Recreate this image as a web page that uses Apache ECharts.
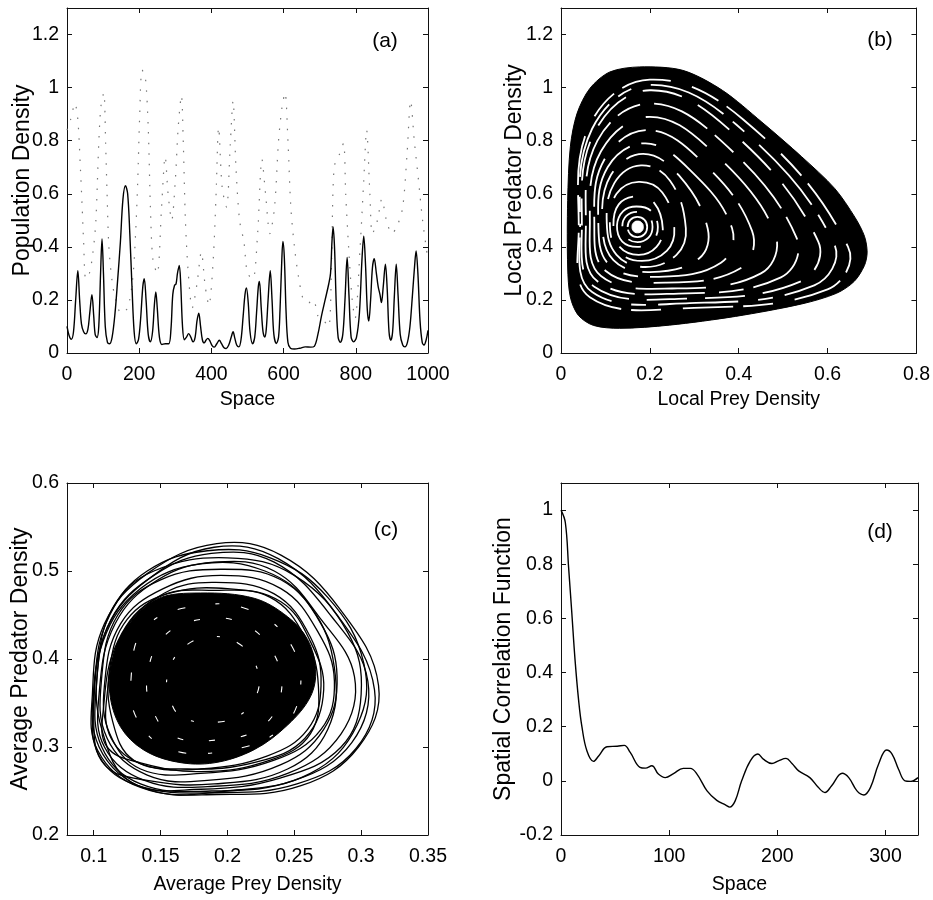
<!DOCTYPE html>
<html>
<head>
<meta charset="utf-8">
<script src="https://cdn.jsdelivr.net/npm/echarts@6/dist/echarts.min.js"></script>
<style>
html, body { margin: 0; padding: 0; background: #fff; }
#main { width: 933px; height: 900px; }
</style>
</head>
<body>
<div id="main"></div>
<script>
// (a) prey density along space (solid)
const preyA = [[0,0.1],[6,0.065],[12,0.052],[18,0.08],[24,0.2],[30,0.31],[35,0.2],[40,0.11],[46,0.08],[52,0.072],[58,0.09],[63,0.15],[69,0.22],[74,0.14],[78,0.07],[83,0.058],[88,0.1],[93,0.3],[97,0.43],[101,0.3],[106,0.1],[112,0.04],[118,0.035],[125,0.06],[133,0.15],[140,0.27],[148,0.42],[155,0.58],[162,0.63],[168,0.6],[174,0.45],[180,0.25],[186,0.08],[192,0.035],[198,0.05],[204,0.13],[210,0.25],[214,0.28],[219,0.2],[225,0.07],[231,0.042],[237,0.08],[242,0.18],[246,0.23],[250,0.17],[256,0.06],[263,0.032],[272,0.035],[282,0.035],[288,0.09],[293,0.22],[298,0.255],[302,0.26],[306,0.3],[311,0.33],[315,0.26],[320,0.1],[325,0.05],[331,0.06],[337,0.073],[343,0.06],[349,0.042],[355,0.06],[360,0.12],[365,0.15],[370,0.1],[375,0.05],[380,0.038],[385,0.048],[390,0.055],[396,0.045],[402,0.028],[408,0.022],[415,0.035],[422,0.048],[428,0.035],[435,0.02],[441,0.017],[448,0.03],[455,0.06],[460,0.08],[465,0.055],[470,0.03],[476,0.023],[482,0.05],[488,0.14],[493,0.22],[497,0.245],[502,0.19],[507,0.08],[514,0.035],[520,0.06],[525,0.15],[530,0.25],[533,0.27],[538,0.17],[543,0.08],[548,0.06],[552,0.09],[557,0.2],[563,0.31],[568,0.2],[573,0.07],[580,0.036],[586,0.06],[590,0.16],[595,0.35],[598,0.42],[602,0.36],[607,0.15],[612,0.04],[619,0.018],[630,0.015],[645,0.018],[660,0.023],[675,0.022],[685,0.025],[695,0.07],[705,0.14],[715,0.2],[725,0.26],[730,0.3],[734,0.42],[737,0.475],[741,0.4],[746,0.18],[751,0.06],[757,0.04],[764,0.07],[770,0.2],[776,0.36],[781,0.22],[787,0.06],[794,0.042],[802,0.06],[810,0.15],[817,0.35],[822,0.44],[827,0.33],[832,0.16],[836,0.12],[841,0.2],[846,0.32],[851,0.355],[857,0.3],[862,0.25],[867,0.22],[871,0.19],[876,0.25],[882,0.335],[887,0.24],[892,0.08],[897,0.048],[902,0.08],[907,0.22],[912,0.335],[917,0.22],[923,0.07],[930,0.03],[936,0.023],[943,0.04],[950,0.1],[957,0.22],[963,0.33],[967,0.385],[972,0.3],[978,0.12],[984,0.04],[989,0.03],[995,0.05],[1000,0.085]];

// (a) predator density along space (dotted)
const predA = [[0,0.84],[10,0.88],[22,0.94],[30,0.88],[37,0.7],[42,0.55],[46,0.42],[52,0.28],[62,0.3],[72,0.38],[80,0.5],[88,0.79],[94,0.93],[102,0.98],[107,0.79],[111,0.6],[116,0.4],[125,0.27],[135,0.2],[150,0.15],[168,0.17],[182,0.28],[190,0.45],[196,0.65],[201,0.88],[208,1.066],[217,1.04],[225,0.85],[231,0.55],[238,0.35],[250,0.3],[262,0.55],[272,0.74],[280,0.6],[290,0.5],[300,0.65],[308,0.85],[317,0.97],[322,0.8],[328,0.5],[336,0.3],[347,0.17],[360,0.26],[372,0.38],[383,0.25],[393,0.18],[405,0.35],[413,0.6],[420,0.85],[430,0.62],[442,0.55],[452,0.78],[460,0.95],[468,0.7],[478,0.5],[490,0.42],[500,0.3],[515,0.28],[528,0.45],[540,0.73],[550,0.6],[562,0.45],[575,0.55],[586,0.8],[596,0.93],[604,0.98],[612,0.8],[620,0.55],[630,0.4],[641,0.29],[655,0.2],[670,0.19],[683,0.2],[695,0.14],[712,0.12],[725,0.1],[733,0.35],[740,0.7],[755,0.75],[766,0.79],[772,0.6],[780,0.4],[790,0.2],[798,0.13],[812,0.4],[822,0.65],[830,0.84],[839,0.6],[846,0.45],[860,0.5],[872,0.58],[885,0.5],[900,0.45],[915,0.48],[930,0.55],[942,0.75],[952,0.95],[962,0.8],[973,0.66],[985,0.5],[1000,0.35]];

// (b) outline of the filled local phase portrait
const boundaryB = [[0.177,1.078],[0.11,1.059],[0.065,0.997],[0.036,0.902],[0.021,0.777],[0.015,0.575],[0.015,0.324],[0.021,0.211],[0.039,0.142],[0.073,0.104],[0.132,0.093],[0.244,0.105],[0.393,0.138],[0.542,0.185],[0.62,0.225],[0.66,0.27],[0.683,0.33],[0.689,0.38],[0.683,0.44],[0.662,0.51],[0.616,0.62],[0.542,0.739],[0.452,0.87],[0.363,0.99],[0.274,1.065]];
// (b) white orbits inside
const holeB = [[0.16,0.475],[0.163,0.49],[0.172,0.497],[0.182,0.49],[0.185,0.475],[0.182,0.46],[0.172,0.453],[0.163,0.46]];
const ringsB = [
  [[0.15,0.475],[0.156,0.502],[0.172,0.513],[0.188,0.502],[0.194,0.475],[0.188,0.448],[0.172,0.437],[0.156,0.448]],
  [[0.138,0.478],[0.147,0.517],[0.172,0.532],[0.197,0.517],[0.206,0.475],[0.197,0.435],[0.172,0.418],[0.147,0.435]],
  [[0.126,0.48],[0.14,0.535],[0.17,0.552],[0.203,0.535],[0.218,0.475],[0.205,0.42],[0.172,0.4],[0.138,0.42]],
  [[0.118,0.48],[0.13,0.56],[0.17,0.59],[0.21,0.565],[0.229,0.47],[0.215,0.4],[0.175,0.37],[0.132,0.4]],
  [[0.11,0.485],[0.125,0.6],[0.175,0.645],[0.228,0.605],[0.255,0.47],[0.238,0.385],[0.182,0.347],[0.128,0.385]],
  [[0.103,0.49],[0.12,0.64],[0.18,0.707],[0.245,0.65],[0.281,0.47],[0.26,0.37],[0.19,0.324],[0.125,0.37]],
  [[0.093,0.49],[0.112,0.67],[0.185,0.75],[0.265,0.67],[0.33,0.47],[0.31,0.355],[0.2,0.305],[0.118,0.35]],
  [[0.084,0.49],[0.105,0.7],[0.19,0.79],[0.29,0.69],[0.385,0.47],[0.36,0.34],[0.22,0.287],[0.11,0.33]],
  [[0.075,0.49],[0.098,0.73],[0.195,0.84],[0.315,0.725],[0.43,0.46],[0.405,0.32],[0.235,0.265],[0.1,0.31]],
  [[0.065,0.49],[0.09,0.76],[0.2,0.89],[0.34,0.76],[0.482,0.45],[0.45,0.3],[0.25,0.243],[0.09,0.29]],
  [[0.056,0.485],[0.082,0.8],[0.2,0.94],[0.36,0.8],[0.53,0.435],[0.495,0.285],[0.265,0.224],[0.082,0.27]],
  [[0.047,0.48],[0.075,0.83],[0.2,0.99],[0.38,0.84],[0.579,0.42],[0.54,0.27],[0.28,0.205],[0.075,0.25]],
  [[0.043,0.475],[0.07,0.845],[0.2,1.01],[0.395,0.86],[0.615,0.41],[0.57,0.255],[0.29,0.188],[0.07,0.23]],
  [[0.04,0.47],[0.065,0.86],[0.2,1.03],[0.41,0.88],[0.646,0.4],[0.6,0.24],[0.3,0.17],[0.065,0.21]]
];

// (c) dense core and the outer orbits of the averaged densities
const blobC = [[0.18,0.475],[0.147,0.468],[0.125,0.437],[0.114,0.399],[0.112,0.361],[0.12,0.323],[0.137,0.297],[0.162,0.283],[0.19,0.282],[0.22,0.297],[0.245,0.325],[0.262,0.357],[0.266,0.388],[0.26,0.422],[0.245,0.448],[0.22,0.469]];
const loopsC = [
  [[0.099,0.36],[0.108,0.44],[0.14,0.497],[0.192,0.531],[0.24,0.518],[0.285,0.455],[0.313,0.37],[0.298,0.3],[0.255,0.256],[0.192,0.246],[0.135,0.254],[0.103,0.296]],
  [[0.1,0.35],[0.11,0.435],[0.142,0.492],[0.19,0.527],[0.238,0.514],[0.282,0.45],[0.31,0.365],[0.296,0.298],[0.252,0.258],[0.19,0.248],[0.133,0.256],[0.104,0.29]],
  [[0.102,0.37],[0.113,0.445],[0.145,0.495],[0.188,0.52],[0.235,0.51],[0.278,0.448],[0.305,0.375],[0.293,0.305],[0.25,0.262],[0.188,0.25],[0.135,0.258],[0.106,0.3]],
  [[0.104,0.36],[0.116,0.44],[0.148,0.49],[0.19,0.51],[0.235,0.5],[0.27,0.445],[0.295,0.38],[0.285,0.315],[0.245,0.27],[0.185,0.255],[0.138,0.262],[0.108,0.3]],
  [[0.106,0.38],[0.118,0.45],[0.15,0.49],[0.195,0.502],[0.24,0.49],[0.27,0.44],[0.282,0.38],[0.272,0.32],[0.24,0.28],[0.185,0.262],[0.14,0.268],[0.11,0.31]],
  [[0.108,0.37],[0.12,0.44],[0.152,0.48],[0.195,0.495],[0.24,0.48],[0.268,0.43],[0.28,0.375],[0.27,0.32],[0.235,0.285],[0.18,0.27],[0.135,0.275],[0.112,0.315]],
  [[0.11,0.36],[0.122,0.43],[0.153,0.475],[0.19,0.487],[0.235,0.474],[0.262,0.425],[0.27,0.37],[0.26,0.32],[0.23,0.29],[0.18,0.275],[0.137,0.28],[0.113,0.31]],
  [[0.1,0.33],[0.107,0.42],[0.135,0.48],[0.18,0.508],[0.228,0.5],[0.262,0.46],[0.28,0.39],[0.275,0.32],[0.245,0.275],[0.19,0.258],[0.14,0.262],[0.108,0.28]],
  [[0.103,0.39],[0.115,0.46],[0.145,0.5],[0.2,0.515],[0.25,0.495],[0.29,0.43],[0.3,0.36],[0.285,0.3],[0.24,0.265],[0.18,0.252],[0.128,0.26],[0.106,0.32]],
  [[0.107,0.34],[0.118,0.42],[0.148,0.47],[0.19,0.478],[0.232,0.47],[0.258,0.425],[0.268,0.37],[0.262,0.315],[0.232,0.285],[0.18,0.272],[0.135,0.282],[0.11,0.3]],
  [[0.112,0.39],[0.125,0.445],[0.155,0.474],[0.2,0.48],[0.24,0.465],[0.262,0.42],[0.272,0.365],[0.258,0.31],[0.222,0.283],[0.17,0.275],[0.13,0.285],[0.114,0.33]],
  [[0.101,0.38],[0.112,0.45],[0.14,0.5],[0.185,0.523],[0.232,0.515],[0.275,0.47],[0.302,0.395],[0.297,0.325],[0.262,0.27],[0.2,0.25],[0.14,0.252],[0.104,0.3]]
];
const streaksC = [
  [[0.128,0.38],[0.138,0.435],[0.175,0.46],[0.218,0.455],[0.248,0.415],[0.254,0.36],[0.238,0.318],[0.2,0.296],[0.158,0.297],[0.133,0.33]],
  [[0.14,0.38],[0.152,0.425],[0.18,0.445],[0.212,0.44],[0.235,0.405],[0.24,0.36],[0.225,0.322],[0.192,0.308],[0.16,0.312],[0.144,0.342]],
  [[0.155,0.38],[0.165,0.41],[0.185,0.425],[0.208,0.418],[0.222,0.39],[0.222,0.36],[0.208,0.335],[0.185,0.328],[0.165,0.335],[0.157,0.355]]
];

// (d) spatial correlation function
const corrD = [[0,1.0],[4,0.954],[7,0.79],[10,0.62],[13,0.446],[16.3,0.297],[19.4,0.198],[24,0.11],[30,0.072],[35,0.093],[42.5,0.126],[52,0.128],[58.5,0.131],[64,0.105],[73,0.05],[78,0.047],[84,0.056],[90,0.025],[96.4,0.012],[104,0.027],[113,0.046],[119.5,0.046],[125.7,0.025],[135,-0.037],[144,-0.072],[152,-0.089],[156,-0.097],[161,-0.074],[167,0],[175,0.074],[182,0.099],[187,0.08],[195,0.064],[201,0.074],[208,0.083],[213.5,0.064],[219.7,0.037],[230,0.012],[238,-0.025],[244,-0.043],[250,-0.019],[260,0.028],[266,0.012],[273.6,-0.037],[280,-0.052],[286,-0.025],[293.6,0.062],[301,0.114],[306,0.099],[312,0.043],[318,0],[323,-0.002],[330,0.012]];

// tick values
const ticksAx = [0, 200, 400, 600, 800, 1000];
const ticksAy = [0, 0.2, 0.4, 0.6, 0.8, 1, 1.2];
const ticksBx = [0, 0.2, 0.4, 0.6, 0.8];
const ticksBy = [0, 0.2, 0.4, 0.6, 0.8, 1, 1.2];
const ticksCx = [0.1, 0.15, 0.2, 0.25, 0.3, 0.35];
const ticksCy = [0.2, 0.3, 0.4, 0.5, 0.6];
const ticksDx = [0, 100, 200, 300];
const ticksDy = [-0.2, 0, 0.2, 0.4, 0.6, 0.8, 1];

const font = '"Liberation Sans", Arial, sans-serif';

function axis(grid, pos, min, max, ticks, name, gap) {
    const main = pos === 'bottom' || pos === 'left';
    const horiz = pos === 'bottom' || pos === 'top';
    return {
        type: 'value', gridIndex: grid, position: pos, min: min, max: max,
        axisLine: { show: true, onZero: false, lineStyle: { color: '#111', width: 1 } },
        axisTick: { show: true, inside: true, length: 5, customValues: ticks, lineStyle: { color: '#111' } },
        axisLabel: {
            show: main, customValues: ticks, margin: horiz ? 12 : 8, color: '#000',
            fontFamily: font, fontSize: 19.5, formatter: v => String(v)
        },
        splitLine: { show: false },
        name: main ? name : '',
        nameLocation: 'middle',
        nameGap: gap,
        nameMoveOverlap: false,
        nameTextStyle: { fontFamily: font, fontSize: horiz ? 19.5 : 23, color: '#000' }
    };
}

function polySeries(grid, shapes, style, smooth, dashes) {
    return {
        type: 'custom', coordinateSystem: 'cartesian2d',
        xAxisIndex: 2 * grid, yAxisIndex: 2 * grid,
        silent: true,
        data: shapes.map((s, i) => [s[0][0], s[0][1], i]),
        renderItem(params, api) {
            const i = params.dataIndex;
            const pts = shapes[i].map(p => api.coord(p));
            const st = Object.assign({}, style);
            if (dashes) {
                st.lineDash = dashes[i % dashes.length];
                st.lineDashOffset = i * 17;
            }
            return { type: 'polygon', shape: { points: pts, smooth: smooth }, style: st };
        }
    };
}

const chart = echarts.init(document.getElementById('main'), null, { renderer: 'canvas' });
const option = {
    animation: false,
    backgroundColor: '#fff',
    grid: [
        { left: 67, top: 8, width: 361, height: 345 },
        { left: 561, top: 8, width: 358, height: 345 },
        { left: 67, top: 483, width: 361, height: 352 },
        { left: 561, top: 483, width: 357, height: 352 }
    ],
    xAxis: [
        axis(0, 'bottom', 0, 1000, ticksAx, 'Space', 37),
        axis(0, 'top', 0, 1000, ticksAx),
        axis(1, 'bottom', 0, 0.8, ticksBx, 'Local Prey Density', 37),
        axis(1, 'top', 0, 0.8, ticksBx),
        axis(2, 'bottom', 0.08, 0.35, ticksCx, 'Average Prey Density', 40),
        axis(2, 'top', 0.08, 0.35, ticksCx),
        axis(3, 'bottom', 0, 330, ticksDx, 'Space', 40),
        axis(3, 'top', 0, 330, ticksDx)
    ],
    yAxis: [
        axis(0, 'left', 0, 1.3, ticksAy, 'Population Density', 33),
        axis(0, 'right', 0, 1.3, ticksAy),
        axis(1, 'left', 0, 1.3, ticksBy, 'Local Predator Density', 35),
        axis(1, 'right', 0, 1.3, ticksBy),
        axis(2, 'left', 0.2, 0.6, ticksCy, 'Average Predator Density', 35),
        axis(2, 'right', 0.2, 0.6, ticksCy),
        axis(3, 'left', -0.2, 1.1, ticksDy, 'Spatial Correlation Function', 46),
        axis(3, 'right', -0.2, 1.1, ticksDy)
    ],
    graphic: [
        ['(a)', 385, 41], ['(b)', 880, 40], ['(c)', 386, 530], ['(d)', 880, 532]
    ].map(t => ({
        type: 'text', x: t[1], y: t[2], silent: true,
        style: { text: t[0], fontFamily: font, fontSize: 21, fill: '#000', align: 'center', verticalAlign: 'middle' }
    })),
    series: [
        {
            type: 'line', xAxisIndex: 0, yAxisIndex: 0, data: predA, showSymbol: false, smooth: 0.3,
            lineStyle: { color: '#777', width: 1.2, type: [1.5, 9] }
        },
        {
            type: 'line', xAxisIndex: 0, yAxisIndex: 0, data: preyA, showSymbol: false, smooth: 0.35,
            lineStyle: { color: '#000', width: 1.4 }
        },
        polySeries(1, [boundaryB], { fill: '#000', stroke: '#000', lineWidth: 1 }, 0.3),
        polySeries(1, ringsB, { fill: 'none', stroke: '#fff', lineWidth: 1.8 }, 0.4,
            [[60, 10, 25, 14], [40, 18], [80, 12, 15, 20], [30, 10, 50, 22], [70, 25]]),
        polySeries(1, [holeB], { fill: '#fff', stroke: '#fff', lineWidth: 1 }, 0.5),
        polySeries(2, loopsC, { fill: 'none', stroke: '#000', lineWidth: 1.3 }, 0.4),
        polySeries(2, [blobC], { fill: '#000', stroke: '#000', lineWidth: 1 }, 0.35),
        polySeries(2, streaksC, { fill: 'none', stroke: '#fff', lineWidth: 1.1 }, 0.4,
            [[4, 22, 8, 30], [6, 26], [3, 18, 7, 24]]),
        {
            type: 'line', xAxisIndex: 6, yAxisIndex: 6, data: corrD, showSymbol: false, smooth: 0.4,
            lineStyle: { color: '#000', width: 1.4 }
        }
    ]
};
chart.setOption(option);
</script>
</body>
</html>
